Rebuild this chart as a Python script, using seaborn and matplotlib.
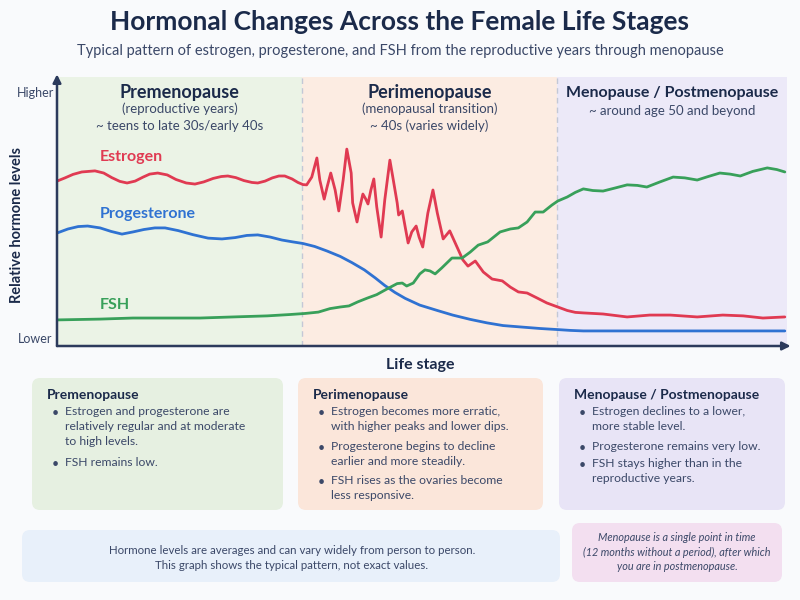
import matplotlib.pyplot as plt
import pandas as pd
import seaborn as sns
from matplotlib.patches import FancyBboxPatch

# Curves: life stage position (0-100) and relative level (0-100)
estrogen_x = [0, 1.1, 2.2, 3.4, 5.2, 6.4, 7.5, 8.6, 9.6, 10.7, 11.8, 12.7, 13.8, 15.1, 16.3, 17.7,
              18.9, 20.1, 21.4, 22.5, 23.4, 24.5, 25.6, 26.7, 27.5, 28.5, 29.5, 30.4, 31.2, 32.2,
              33.0, 33.7, 34.2, 34.9, 35.6, 36.0, 36.6, 37.0, 37.5, 38.1, 38.6, 39.2, 39.7, 40.3,
              40.5, 41.1, 41.5, 41.9, 42.3, 42.6, 43.0, 43.4, 43.8, 44.4, 44.9, 45.6, 46.0, 46.6,
              46.8, 47.3, 47.7, 48.1, 48.6, 49.2, 49.6, 50.1, 50.8, 51.5, 52.1, 52.9, 53.8, 54.8,
              55.6, 56.3, 57.3, 58.4, 59.6, 61.0, 62.1, 63.2, 64.4, 65.8, 67.1, 68.6, 69.9, 71.0,
              72.1, 74.8, 78.1, 81.2, 84.0, 87.7, 91.2, 94.0, 96.7, 99.7]
estrogen_y = [61.3, 62.5, 63.8, 64.7, 65.1, 64.3, 62.6, 61.2, 60.6, 61.3, 62.8, 63.9, 64.3, 63.6, 61.9, 60.6,
              60.2, 61.0, 62.3, 63.0, 63.2, 62.6, 61.5, 60.8, 60.6, 61.3, 62.5, 63.2, 63.2, 62.1,
              60.8, 60.0, 59.9, 62.8, 69.9, 61.7, 54.6, 59.1, 64.3, 58.0, 50.2, 61.7, 73.2, 64.3,
              53.2, 46.1, 51.7, 56.5, 54.6, 52.8, 58.0, 62.1, 51.7, 40.5, 54.3, 69.1, 62.8, 53.2,
              48.7, 50.2, 44.2, 38.3, 42.4, 44.6, 40.5, 36.8, 49.4, 58.0, 49.4, 39.8, 42.8, 36.8,
              32.0, 29.7, 31.6, 27.5, 24.9, 24.2, 21.9, 20.1, 19.7, 17.8, 16.0, 14.5, 13.2, 12.5,
              12.3, 11.9, 10.8, 11.5, 11.5, 10.8, 11.5, 11.2, 10.4, 10.8]

progesterone_x = [0, 1.5, 2.9, 4.2, 5.9, 7.4, 8.9, 10.4, 11.9, 13.4, 14.8, 16.6, 18.6, 20.7, 22.6,
                  24.4, 26.0, 27.5, 29.2, 30.8, 32.3, 33.7, 35.3, 37.0, 38.8, 40.4, 42.1, 43.6, 44.9,
                  46.3, 47.7, 49.7, 52.1, 54.2, 56.6, 58.9, 61.1, 63.4, 66.2, 68.6, 70.3, 72.1, 81.2,
                  90.8, 99.7]
progesterone_y = [42.0, 43.5, 44.4, 44.6, 43.9, 42.6, 41.6, 42.4, 43.3, 43.9, 43.9, 42.9, 41.4, 40.1, 39.8,
                  40.3, 41.1, 41.3, 40.5, 39.4, 38.7, 38.1, 37.0, 35.3, 33.3, 31.0, 28.3, 25.3, 22.5,
                  19.9, 17.7, 15.2, 13.2, 11.5, 9.9, 8.6, 7.6, 7.1, 6.5, 6.1, 5.8, 5.6, 5.6,
                  5.6, 5.6]

fsh_x = [0, 5.9, 10.4, 15.1, 19.6, 24.1, 28.8, 31.9, 34.0, 35.8, 37.4, 38.8, 40.0, 41.2, 42.5, 43.8,
         45.2, 46.6, 47.3, 47.9, 48.8, 49.7, 50.4, 51.1, 51.8, 52.7, 54.1, 55.5, 56.6, 57.7, 59.0,
         60.7, 62.1, 63.2, 64.4, 65.5, 66.6, 67.8, 68.6, 69.9, 71.0, 72.1, 73.4, 74.8, 76.4, 78.1,
         79.5, 80.8, 82.6, 84.4, 86.0, 87.7, 89.2, 90.8, 92.2, 93.6, 95.3, 97.3, 98.6, 99.7]
fsh_y = [9.7, 10.0, 10.4, 10.4, 10.4, 10.8, 11.2, 11.7, 12.1, 12.6, 13.9, 14.5, 14.9, 16.4, 17.8, 19.1,
         21.2, 23.2, 23.4, 22.3, 23.4, 26.8, 28.3, 27.9, 26.8, 29.0, 32.7, 32.7, 34.9, 37.5, 38.7,
         42.4, 43.5, 43.9, 46.1, 49.8, 49.8, 52.4, 53.9, 55.4, 57.1, 58.4, 57.8, 57.6, 58.7, 59.9,
         59.7, 59.1, 61.0, 62.8, 62.5, 61.7, 63.0, 64.3, 63.9, 63.2, 64.9, 66.2, 65.6, 64.7]

hormones = ["Estrogen", "Progesterone", "FSH"]
hormone_colors = ["#e03a52", "#2f72d2", "#38a05a"]
label_levels = [70.3, 49.1, 15.2]

stage_bounds = [0, 33.6, 68.5, 100]
stage_names = ["Premenopause", "Perimenopause", "Menopause / Postmenopause"]
stage_subs = [["(reproductive years)", "~ teens to late 30s/early 40s"],
              ["(menopausal transition)", "~ 40s (varies widely)"],
              ["~ around age 50 and beyond"]]
stage_colors = ["#ebf3e6", "#fcece2", "#ece9f8"]
box_colors = ["#e6f0e1", "#fbe6da", "#e8e4f6"]

box_bullets = [
    ["Estrogen and progesterone are\nrelatively regular and at moderate\nto high levels.",
     "FSH remains low."],
    ["Estrogen becomes more erratic,\nwith higher peaks and lower dips.",
     "Progesterone begins to decline\nearlier and more steadily.",
     "FSH rises as the ovaries become\nless responsive."],
    ["Estrogen declines to a lower,\nmore stable level.",
     "Progesterone remains very low.",
     "FSH stays higher than in the\nreproductive years."],
]
note_text = ("Hormone levels are averages and can vary widely from person to person.\n"
             "This graph shows the typical pattern, not exact values.")
menopause_note = ("Menopause is a single point in time\n(12 months without a period), after which\n"
                  "you are in postmenopause.")

data = pd.concat([
    pd.DataFrame({"stage": estrogen_x, "level": estrogen_y, "hormone": "Estrogen"}),
    pd.DataFrame({"stage": progesterone_x, "level": progesterone_y, "hormone": "Progesterone"}),
    pd.DataFrame({"stage": fsh_x, "level": fsh_y, "hormone": "FSH"}),
])

sns.set_theme(style="white")
plt.rcParams['font.family'] = ['Lato', 'DejaVu Sans']

navy = "#1b2a4a"
slate = "#3b4868"
bg = "#f9fafc"

fig = plt.figure(figsize=(8, 6), dpi=100, facecolor=bg)

# overlay in pixel units for title and the text boxes
over = fig.add_axes([0, 0, 1, 1], zorder=0)
over.set_xlim(0, 800)
over.set_ylim(600, 0)
over.axis("off")

over.text(400, 22, "Hormonal Changes Across the Female Life Stages", ha="center", va="center",
          fontsize=19, fontweight="bold", color=navy)
over.text(400, 51, "Typical pattern of estrogen, progesterone, and FSH from the reproductive years through menopause",
          ha="center", va="center", fontsize=10.5, color=slate)

ax = fig.add_axes([57 / 800, 254 / 600, 730 / 800, 269 / 600], zorder=1)
ax.patch.set_alpha(0)

for i, c in enumerate(stage_colors):
    ax.axvspan(stage_bounds[i], stage_bounds[i + 1], color=c, lw=0, zorder=0)
for b in stage_bounds[1:3]:
    ax.axvline(b, color="#c3c8d6", lw=1, ls=(0, (4, 3)), zorder=1)

sns.lineplot(data=data, x="stage", y="level", hue="hormone", hue_order=hormones,
             palette=hormone_colors, estimator=None, sort=False, lw=2, legend=False, ax=ax, zorder=3,
             solid_joinstyle="round", solid_capstyle="round")

for name, c, lv in zip(hormones, hormone_colors, label_levels):
    ax.text(5.9, lv, name, color=c, fontsize=11.5, fontweight="bold", va="center", ha="left")

for i, name in enumerate(stage_names):
    cx = (stage_bounds[i] + stage_bounds[i + 1]) / 2
    big = 13 if i < 2 else 11.5
    ax.text(cx, 94.1, name, ha="center", va="center", fontsize=big, fontweight="bold", color=navy)
    for j, s in enumerate(stage_subs[i]):
        yy = (88.1 - j * 6.3) if i < 2 else 87.4
        ax.text(cx, yy, s, ha="center", va="center", fontsize=9.5, color=slate)

ax.set_xlim(0, 100)
ax.set_ylim(0, 100)
ax.set_xticks([])
ax.set_yticks([])
for sp in ax.spines.values():
    sp.set_visible(False)
ax.annotate("", xy=(0, 1.01), xytext=(0, 0), xycoords="axes fraction",
            arrowprops=dict(arrowstyle="-|>", color="#2c3a5c", lw=1.8, mutation_scale=12, shrinkA=0, shrinkB=0))
ax.annotate("", xy=(1.005, 0), xytext=(0, 0), xycoords="axes fraction",
            arrowprops=dict(arrowstyle="-|>", color="#2c3a5c", lw=1.8, mutation_scale=12, shrinkA=0, shrinkB=0))

ax.set_xlabel("Life stage", fontsize=11.5, fontweight="bold", color=navy)
ax.xaxis.set_label_coords(0.497, -0.045)
ax.set_ylabel("Relative hormone levels", fontsize=10.5, fontweight="bold", color=navy)
ax.yaxis.set_label_coords(-0.045, 0.45)
ax.text(-0.03, 0.94, "Higher", transform=ax.transAxes, ha="center", va="center", fontsize=9, color=slate)
ax.text(-0.03, 0.026, "Lower", transform=ax.transAxes, ha="center", va="center", fontsize=9, color=slate)

# stage description boxes
box_x = [(32, 283), (298, 543), (559, 785)]
for i, (x0, x1) in enumerate(box_x):
    over.add_patch(FancyBboxPatch((x0, 378), x1 - x0, 132, boxstyle="round,pad=0,rounding_size=8",
                                  fc=box_colors[i], ec="none"))
    over.text(x0 + 15, 395, stage_names[i], fontsize=10, fontweight="bold", color=navy, va="center")
    line = 0
    for k, b in enumerate(box_bullets[i]):
        y = 413 + line * 17 + k * 0.5
        over.text(x0 + 20, y, "\u2022", fontsize=9, color=slate, va="center")
        over.text(x0 + 33, y - 7, b, fontsize=8.7, color=slate, va="top", linespacing=1.45)
        line += b.count("\n") + 1

over.add_patch(FancyBboxPatch((22, 530), 538, 52, boxstyle="round,pad=0,rounding_size=8",
                              fc="#e8f0fa", ec="none"))
over.text(292, 558, note_text, ha="center", va="center", fontsize=8.3, color=slate, linespacing=1.45)
over.add_patch(FancyBboxPatch((572, 523), 210, 59, boxstyle="round,pad=0,rounding_size=8",
                              fc="#f3dff0", ec="none"))
over.text(677, 552, menopause_note, ha="center", va="center", fontsize=7.8, color=slate,
          style="italic", linespacing=1.4)

plt.savefig("out.png", dpi=100, facecolor=bg)
